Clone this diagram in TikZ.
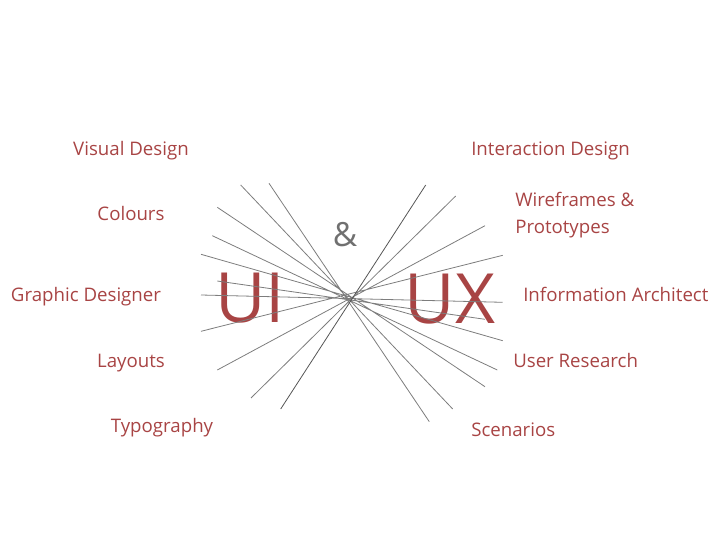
\documentclass[tikz,border=0pt]{standalone}
\usepackage{fontspec}
\setmainfont{Open Sans}
\usepackage{xcolor}
\definecolor{uxred}{RGB}{168,68,68}
\definecolor{raygray}{RGB}{125,125,125}
\definecolor{raydark}{RGB}{85,85,85}
\definecolor{ampgray}{RGB}{112,112,112}

\begin{document}
\begin{tikzpicture}[x=0.75pt, y=-0.75pt,
    topic/.style={anchor=base, text=uxred, font=\fontsize{14}{17}\selectfont, inner sep=0pt},
    big/.style={anchor=base, text=uxred, font=\fontsize{52}{60}\selectfont, inner sep=0pt},
    ray/.style={draw=raygray, line width=0.6pt}]
                \useasboundingbox (0, 0) rectangle (711, 556);

                \node[topic] (vis) at (131, 156) {Visual Design};
                \node[topic] (col) at (131, 221) {Colours};
                \node[topic] (gra) at (86, 301) {Graphic Designer};
                \node[topic] (lay) at (131, 367) {Layouts};
                \node[topic] (typ) at (162, 432) {Typography};

                \node[topic, anchor=base west] (int) at (471, 156) {Interaction Design};
                \node[topic, anchor=base west, align=left, font=\fontsize{14}{20.5}\selectfont] (wir) at (515, 234) {Wireframes \&\\Prototypes};
                \node[topic, anchor=base west] (inf) at (523, 301) {Information Architect};
                \node[topic, anchor=base west] (use) at (513, 367) {User Research};
                \node[topic, anchor=base west] (sce) at (471, 436) {Scenarios};

                \node[big] (ui) at (250, 322) {UI};
                \node[big] (ux) at (450, 323) {UX};
                \node[anchor=base, text=ampgray, font=\fontsize{25}{30}\selectfont, inner sep=0pt] (amp) at (345, 247) {\&};

                \coordinate (a1) at (240.7, 185);   \coordinate (b1) at (452.7, 409);
                \coordinate (a2) at (269, 183.3);   \coordinate (b2) at (429.3, 421.7);
                \coordinate (a3) at (217.3, 207.3); \coordinate (b3) at (485, 386.7);
                \coordinate (a4) at (212.3, 235.7); \coordinate (b4) at (497.3, 370);
                \coordinate (a5) at (201, 254.3);   \coordinate (b5) at (502.7, 340.7);
                \coordinate (a6) at (217.3, 281);   \coordinate (b6) at (485, 319.3);
                \coordinate (a7) at (201, 295);     \coordinate (b7) at (502.7, 302.3);
                \coordinate (a8) at (201, 331.3);   \coordinate (b8) at (502.7, 255.3);
                \coordinate (a9) at (217.3, 370);   \coordinate (b9) at (485, 225.7);
                \coordinate (a10) at (251, 398);    \coordinate (b10) at (455.7, 196);
                \coordinate (a11) at (280.7, 409);  \coordinate (b11) at (425.7, 185);

                \draw[ray]
                (a1) -- (b1)
                (a2) -- (b2)
                (a3) -- (b3)
                (a4) -- (b4)
                (a5) -- (b5)
                (a6) -- (b6)
                (a7) -- (b7)
                (a8) -- (b8)
                (a9) -- (b9)
                (a10) -- (b10);
                \draw[ray, draw=raydark] (a11) -- (b11);
            \end{tikzpicture}
\end{document}
